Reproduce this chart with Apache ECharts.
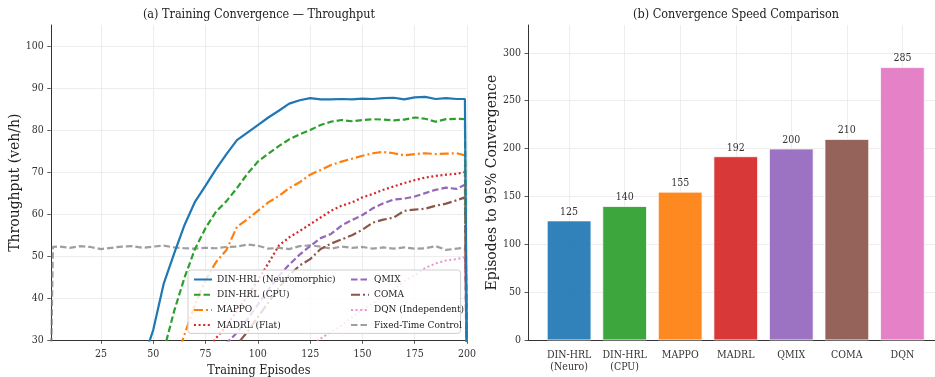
<!DOCTYPE html>
<html><head><meta charset="utf-8">
<script src="https://cdn.jsdelivr.net/npm/echarts@6/dist/echarts.min.js"></script>
<style>html,body{margin:0;padding:0;background:#fff}#c{width:935px;height:377px}</style>
</head><body><div id="c"></div>
<script>
// ---- data ----
const episodes = [1,2,5,10,15,20,25,30,35,40,45,50,55,60,65,70,75,80,85,90,95,100,105,110,115,120,125,130,135,140,145,150,155,160,165,170,175,180,185,190,195,199,200];
const dinNeuro = [20,20,20,20,20,20,20,20,21,22,25, 32.5,43.5,50.7,57.5,63,66.8,70.7,74.3,77.6,79.4, 81.2,83,84.6,86.3,87.1,87.6,87.3,87.3,87.4,87.3, 87.5,87.4,87.6,87.7,87.3,87.8,87.9,87.4,87.6,87.4, 87.4,20];
const dinCpu   = [20,20,20,20,20,20,20,20,20,20,20, 21,27.5,37,45,51.8,56.7,60.6,63.1,66.2,69.6, 72.5,74.4,76.2,77.8,79,80,81.2,82,82.4,82.1, 82.4,82.6,82.5,82.3,82.5,83,82.7,82,82.6,82.7, 82.6,20];
const mappo    = [20,20,20,20,20,20,20,20,20,20,20, 20,20,24,31.5,38.5,44.4,48.6,51.5,57,58.8, 60.8,62.8,64.3,66.2,67.6,69.4,70.5,71.7,72.5,73.2, 73.9,74.5,74.8,74.5,74,74.3,74.5,74.3,74.4,74.5, 74,20];
const madrl    = [20,20,20,20,20,20,20,20,20,20,20, 20,20,20,20,24,27,30.5,33.5,37,40.5, 44.3,48.3,52.5,54.5,56,57.6,59.2,60.8,62,62.8, 64,64.8,65.8,66.6,67.4,68.1,68.7,69.1,69.4,69.6, 70,20];
const qmix     = [20,20,20,20,20,20,20,20,20,20,20, 20,20,20,20,22,25,27,29.3,31.8,35, 38.5,42,45.3,48,50.4,52.4,54.3,55.3,57.3,58.6, 59.8,61.4,62.6,63.5,63.7,64.2,65,65.8,66.3,66, 67,20];
const coma     = [20,20,20,20,20,20,20,20,20,20,20, 20,20,20,20,21,23,25,26.5,29,32, 35.5,39,42.5,45.5,47.8,49.3,51.7,53,54,55, 56.3,58,58.7,59.2,60.8,61.1,61.3,62,62.5,63.3, 64,20];
const dqn      = [20,20,20,20,20,20,20,20,20,20,20, 20,20,20,20,20,20,20,20,21,21.5, 22,23,24,25.5,27,28.7,30.4,32,33.5,35.5, 37.3,38.8,40.5,42.1,44,45.5,47.2,48.3,49,49.3, 49.8,20];
const fixedTime= [20,52.2,52.3,52.0,52.4,52.2,51.7,52.0,52.3,52.4,52.0, 52.3,52.5,52.1,51.9,51.8,52.0,51.9,52.2,52.3,52.8, 52.5,51.8,52.0,51.7,52.4,52.6,52.3,51.8,52.3,52.0, 52.2,51.8,52.1,51.8,52.1,51.8,51.9,52.4,51.5,51.8, 52.0,20];

const lineNames = ['DIN-HRL (Neuromorphic)','DIN-HRL (CPU)','MAPPO','MADRL (Flat)','QMIX','COMA','DQN (Independent)','Fixed-Time Control'];
const lineValues = [dinNeuro, dinCpu, mappo, madrl, qmix, coma, dqn, fixedTime];

const barCategories = ['DIN-HRL\n(Neuro)','DIN-HRL\n(CPU)','MAPPO','MADRL','QMIX','COMA','DQN'];
const barValues = [125,140,155,192,200,210,285];

const xTicksLeft = [25,50,75,100,125,150,175,200];
const yTicksLeft = [30,40,50,60,70,80,90,100];
const yTicksRight = [0,50,100,150,200,250,300];

// ---- styles ----
const HF = "'DejaVu Serif Condensed', 'DejaVu Serif', serif";
const VF = "'DejaVu Serif', serif";
const lineColors = ['#1f77b4','#2ca02c','#ff7f0e','#d62728','#9467bd','#8c564b','#e377c2','#7f7f7f'];
const lineTypes = ['solid',[6.5,3],[9,3,2,3],[2,2.6],[6.5,3],[9,3,2,3],[2,2.6],[6.5,3]];
const lineWidths = [2.2,2.2,2.2,2.2,2.2,2.2,1.9,2.2];
const lineOpac = [1,1,1,1,1,1,0.8,0.75];
const barColors = ['#1f77b4','#2ca02c','#ff7f0e','#d62728','#9467bd','#8c564b','#e377c2'];

const gridLine = {show:true, lineStyle:{color:'#e8e8e8', width:0.8}};
const axLine = {show:true, onZero:false, lineStyle:{color:'#333', width:1}};
const tick = {show:true, length:3.5, lineStyle:{color:'#333', width:0.8}};
const lab = {fontFamily:HF, fontSize:10.5, color:'#333'};

const chart = echarts.init(document.getElementById('c'));
const barIdx = barCategories.map((_, i) => i);

const series = lineNames.map((n, k) => ({
  name: n, type: 'line', xAxisIndex: 0, yAxisIndex: 0,
  data: episodes.map((e, i) => [e, lineValues[k][i]]),
  symbol: 'none', showSymbol: false, clip: true,
  itemStyle: {color: lineColors[k]},
  lineStyle: {color: lineColors[k], width: lineWidths[k], type: lineTypes[k], opacity: lineOpac[k]},
  z: 2 + (8 - k) * 0.01
}));
series.push({
  type: 'bar', xAxisIndex: 1, yAxisIndex: 1, barWidth: 44.5,
  data: barValues.map((v, i) => ({value: [i, v], itemStyle: {color: barColors[i]}})),
  itemStyle: {borderColor: '#fff', borderWidth: 0.8, opacity: 0.92},
  label: {show: true, position: 'top', distance: 3, formatter: p => p.value[1], fontFamily: HF, fontSize: 10.5, color: '#222'}
});

const legendCommon = {
  orient: 'vertical', itemWidth: 18, itemHeight: 12, itemGap: 5.2,
  itemStyle: {opacity: 0}, selectedMode: false,
  textStyle: {fontFamily: HF, fontSize: 10, color: '#222'}
};

chart.setOption({
  animation: false,
  backgroundColor: '#fff',
  title: [
    {text: '(a) Training Convergence — Throughput', left: 259, top: 8, textAlign: 'center', padding: 0,
     textStyle: {fontFamily: HF, fontSize: 12.5, fontWeight: 'normal', color: '#222'}},
    {text: '(b) Convergence Speed Comparison', left: 736, top: 8, textAlign: 'center', padding: 0,
     textStyle: {fontFamily: HF, fontSize: 12.5, fontWeight: 'normal', color: '#222'}}
  ],
  legend: [
    Object.assign({}, legendCommon, {
      data: lineNames.slice(0, 4), left: 188, top: 270, padding: [4.5, 125, 3.3, 5],
      backgroundColor: 'rgba(255,255,255,0.8)', borderColor: '#cfcfcf', borderWidth: 1, borderRadius: 3,
      textStyle: {fontFamily: HF, fontSize: 10, color: '#222', width: 117}
    }),
    Object.assign({}, legendCommon, {
      data: lineNames.slice(4), left: 350, top: 274.5, padding: 0, z: 5
    })
  ],
  grid: [
    {left: 50.8, right: 468, top: 25, bottom: 36.7, outerBoundsMode: 'none', containLabel: false},
    {left: 528, right: -8.5, top: 25, bottom: 36.7, outerBoundsMode: 'none', containLabel: false}
  ],
  xAxis: [
    {type: 'value', gridIndex: 0, min: 1, max: 200,
     axisLine: axLine, axisTick: Object.assign({customValues: xTicksLeft}, tick),
     axisLabel: Object.assign({customValues: xTicksLeft, margin: 8}, lab),
     splitLine: gridLine,
     name: 'Training Episodes', nameLocation: 'middle', nameGap: 24,
     nameTextStyle: {fontFamily: HF, fontSize: 12.5, color: '#222'}},
    {type: 'value', gridIndex: 1, min: -0.74, max: 6.74,
     axisLine: axLine, axisTick: {show: false, customValues: barIdx},
     axisLabel: Object.assign({customValues: barIdx, margin: 9.5, lineHeight: 11.5,
       formatter: v => barCategories[Math.round(v)]}, lab),
     splitLine: gridLine}
  ],
  yAxis: [
    {type: 'value', gridIndex: 0, min: 30, max: 105,
     axisLine: axLine, axisTick: Object.assign({customValues: yTicksLeft}, tick),
     axisLabel: Object.assign({customValues: yTicksLeft, margin: 7}, lab),
     splitLine: gridLine,
     name: 'Throughput (veh/h)', nameLocation: 'middle', nameGap: 27,
     nameTextStyle: {fontFamily: VF, fontSize: 14, color: '#222'}},
    {type: 'value', gridIndex: 1, min: 0, max: 329,
     axisLine: axLine, axisTick: Object.assign({customValues: yTicksRight}, tick),
     axisLabel: Object.assign({customValues: yTicksRight, margin: 7}, lab),
     splitLine: gridLine,
     name: 'Episodes to 95% Convergence', nameLocation: 'middle', nameGap: 28,
     nameTextStyle: {fontFamily: VF, fontSize: 14, color: '#222'}}
  ],
  series: series
});
</script></body></html>
